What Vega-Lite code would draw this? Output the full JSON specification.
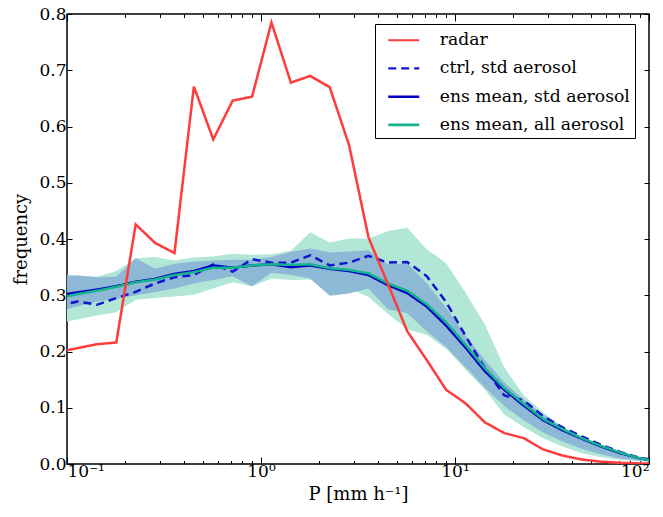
{
  "$schema": "https://vega.github.io/schema/vega-lite/v6.json",
  "width": 582,
  "height": 450,
  "autosize": {"type": "none"},
  "padding": {"left": 67, "top": 14, "right": 14, "bottom": 53},
  "background": "white",
  "config": {
    "view": {"stroke": "black", "strokeWidth": 1.5},
    "axis": {"domain": false, "grid": false, "tickColor": "black", "tickWidth": 1, "labelFont": "DejaVu Serif", "labelFontSize": 17, "labelColor": "black", "titleFont": "DejaVu Serif", "titleFontSize": 18, "titleFontWeight": "normal", "titleColor": "black"},
    "legend": {"labelFont": "DejaVu Serif", "labelFontSize": 17.2, "labelColor": "black", "labelLimit": 400}
  },
  "data": {"values": [
    {"P": 0.08995, "radar": 0.199, "ctrl": 0.281, "ens_std": 0.300, "ens_all": 0.295, "std_lo": 0.272, "std_hi": 0.334, "all_lo": 0.250, "all_hi": 0.337},
    {"P": 0.11324, "radar": 0.206, "ctrl": 0.289, "ens_std": 0.305, "ens_all": 0.302, "std_lo": 0.280, "std_hi": 0.335, "all_lo": 0.257, "all_hi": 0.335},
    {"P": 0.14256, "radar": 0.213, "ctrl": 0.283, "ens_std": 0.310, "ens_all": 0.308, "std_lo": 0.289, "std_hi": 0.332, "all_lo": 0.264, "all_hi": 0.333},
    {"P": 0.17947, "radar": 0.216, "ctrl": 0.295, "ens_std": 0.316, "ens_all": 0.315, "std_lo": 0.294, "std_hi": 0.333, "all_lo": 0.270, "all_hi": 0.343},
    {"P": 0.22594, "radar": 0.426, "ctrl": 0.306, "ens_std": 0.324, "ens_all": 0.323, "std_lo": 0.300, "std_hi": 0.366, "all_lo": 0.292, "all_hi": 0.366},
    {"P": 0.28445, "radar": 0.393, "ctrl": 0.321, "ens_std": 0.329, "ens_all": 0.328, "std_lo": 0.306, "std_hi": 0.347, "all_lo": 0.295, "all_hi": 0.368},
    {"P": 0.35810, "radar": 0.375, "ctrl": 0.332, "ens_std": 0.338, "ens_all": 0.336, "std_lo": 0.312, "std_hi": 0.356, "all_lo": 0.298, "all_hi": 0.362},
    {"P": 0.45082, "radar": 0.671, "ctrl": 0.336, "ens_std": 0.343, "ens_all": 0.341, "std_lo": 0.321, "std_hi": 0.360, "all_lo": 0.301, "all_hi": 0.367},
    {"P": 0.56754, "radar": 0.577, "ctrl": 0.355, "ens_std": 0.353, "ens_all": 0.349, "std_lo": 0.327, "std_hi": 0.362, "all_lo": 0.312, "all_hi": 0.369},
    {"P": 0.71450, "radar": 0.646, "ctrl": 0.342, "ens_std": 0.349, "ens_all": 0.349, "std_lo": 0.334, "std_hi": 0.363, "all_lo": 0.323, "all_hi": 0.374},
    {"P": 0.89950, "radar": 0.653, "ctrl": 0.364, "ens_std": 0.353, "ens_all": 0.353, "std_lo": 0.316, "std_hi": 0.363, "all_lo": 0.316, "all_hi": 0.372},
    {"P": 1.1324, "radar": 0.785, "ctrl": 0.358, "ens_std": 0.355, "ens_all": 0.355, "std_lo": 0.340, "std_hi": 0.368, "all_lo": 0.330, "all_hi": 0.373},
    {"P": 1.4256, "radar": 0.678, "ctrl": 0.358, "ens_std": 0.350, "ens_all": 0.354, "std_lo": 0.336, "std_hi": 0.377, "all_lo": 0.327, "all_hi": 0.379},
    {"P": 1.7947, "radar": 0.690, "ctrl": 0.371, "ens_std": 0.353, "ens_all": 0.355, "std_lo": 0.330, "std_hi": 0.383, "all_lo": 0.328, "all_hi": 0.412},
    {"P": 2.2594, "radar": 0.670, "ctrl": 0.353, "ens_std": 0.347, "ens_all": 0.348, "std_lo": 0.299, "std_hi": 0.376, "all_lo": 0.305, "all_hi": 0.394},
    {"P": 2.8445, "radar": 0.567, "ctrl": 0.358, "ens_std": 0.343, "ens_all": 0.345, "std_lo": 0.303, "std_hi": 0.378, "all_lo": 0.312, "all_hi": 0.401},
    {"P": 3.5810, "radar": 0.403, "ctrl": 0.370, "ens_std": 0.336, "ens_all": 0.339, "std_lo": 0.312, "std_hi": 0.380, "all_lo": 0.297, "all_hi": 0.401},
    {"P": 4.5082, "radar": 0.320, "ctrl": 0.358, "ens_std": 0.318, "ens_all": 0.321, "std_lo": 0.275, "std_hi": 0.355, "all_lo": 0.267, "all_hi": 0.414},
    {"P": 5.6754, "radar": 0.236, "ctrl": 0.359, "ens_std": 0.304, "ens_all": 0.308, "std_lo": 0.268, "std_hi": 0.357, "all_lo": 0.239, "all_hi": 0.420},
    {"P": 7.1450, "radar": 0.185, "ctrl": 0.334, "ens_std": 0.280, "ens_all": 0.284, "std_lo": 0.236, "std_hi": 0.322, "all_lo": 0.230, "all_hi": 0.382},
    {"P": 8.9950, "radar": 0.132, "ctrl": 0.288, "ens_std": 0.246, "ens_all": 0.252, "std_lo": 0.208, "std_hi": 0.278, "all_lo": 0.205, "all_hi": 0.357},
    {"P": 11.324, "radar": 0.108, "ctrl": 0.228, "ens_std": 0.207, "ens_all": 0.212, "std_lo": 0.172, "std_hi": 0.228, "all_lo": 0.168, "all_hi": 0.305},
    {"P": 14.256, "radar": 0.074, "ctrl": 0.170, "ens_std": 0.165, "ens_all": 0.170, "std_lo": 0.136, "std_hi": 0.185, "all_lo": 0.132, "all_hi": 0.248},
    {"P": 17.947, "radar": 0.055, "ctrl": 0.122, "ens_std": 0.132, "ens_all": 0.135, "std_lo": 0.103, "std_hi": 0.145, "all_lo": 0.088, "all_hi": 0.172},
    {"P": 22.594, "radar": 0.046, "ctrl": 0.113, "ens_std": 0.104, "ens_all": 0.107, "std_lo": 0.078, "std_hi": 0.115, "all_lo": 0.066, "all_hi": 0.122},
    {"P": 28.445, "radar": 0.026, "ctrl": 0.085, "ens_std": 0.078, "ens_all": 0.080, "std_lo": 0.056, "std_hi": 0.088, "all_lo": 0.046, "all_hi": 0.092},
    {"P": 35.810, "radar": 0.015, "ctrl": 0.065, "ens_std": 0.060, "ens_all": 0.062, "std_lo": 0.040, "std_hi": 0.066, "all_lo": 0.031, "all_hi": 0.066},
    {"P": 45.082, "radar": 0.008, "ctrl": 0.049, "ens_std": 0.045, "ens_all": 0.046, "std_lo": 0.027, "std_hi": 0.047, "all_lo": 0.019, "all_hi": 0.046},
    {"P": 56.754, "radar": 0.004, "ctrl": 0.034, "ens_std": 0.031, "ens_all": 0.032, "std_lo": 0.017, "std_hi": 0.031, "all_lo": 0.012, "all_hi": 0.030},
    {"P": 71.450, "radar": 0.002, "ctrl": 0.021, "ens_std": 0.019, "ens_all": 0.020, "std_lo": 0.010, "std_hi": 0.019, "all_lo": 0.007, "all_hi": 0.019},
    {"P": 89.950, "radar": 0.001, "ctrl": 0.011, "ens_std": 0.010, "ens_all": 0.010, "std_lo": 0.006, "std_hi": 0.011, "all_lo": 0.005, "all_hi": 0.011},
    {"P": 113.24, "radar": 0.0005, "ctrl": 0.005, "ens_std": 0.004, "ens_all": 0.004, "std_lo": 0.003, "std_hi": 0.006, "all_lo": 0.003, "all_hi": 0.006}
  ]},
  "resolve": {"axis": {"x": "independent", "y": "independent"}},
  "layer": [
    {
      "mark": {"type": "area", "color": "#b2e7d7", "clip": true},
      "encoding": {
        "x": {"field": "P", "type": "quantitative", "scale": {"type": "log", "domain": [0.1, 100], "nice": false},
          "axis": {"orient": "bottom", "title": "P [mm h⁻¹]", "titlePadding": 6,
            "values": [0.1, 0.2, 0.3, 0.4, 0.5, 0.6, 0.7, 0.8, 0.9, 1, 2, 3, 4, 5, 6, 7, 8, 9, 10, 20, 30, 40, 50, 60, 70, 80, 90, 100],
            "tickSize": {"expr": "indexof([0.1, 1, 10, 100], datum.value) >= 0 ? -7 : -3.5"},
            "labelPadding": 6,
            "labelExpr": "datum.value == 0.1 ? '10⁻¹' : datum.value == 1 ? '10⁰' : datum.value == 10 ? '10¹' : datum.value == 100 ? '10²' : ''"}},
        "y": {"field": "all_lo", "type": "quantitative", "scale": {"domain": [0, 0.8], "nice": false},
          "axis": {"orient": "left", "title": "frequency", "values": [0, 0.1, 0.2, 0.3, 0.4, 0.5, 0.6, 0.7, 0.8], "format": ".1f", "tickSize": -5, "labelPadding": 6, "titlePadding": 8}},
        "y2": {"field": "all_hi"}
      }
    },
    {
      "mark": {"type": "area", "color": "#8db8d6", "clip": true},
      "encoding": {
        "x": {"field": "P", "type": "quantitative",
          "axis": {"orient": "top", "title": null, "labels": false,
            "values": [0.1, 0.2, 0.3, 0.4, 0.5, 0.6, 0.7, 0.8, 0.9, 1, 2, 3, 4, 5, 6, 7, 8, 9, 10, 20, 30, 40, 50, 60, 70, 80, 90, 100],
            "tickSize": {"expr": "indexof([0.1, 1, 10, 100], datum.value) >= 0 ? -7 : -3.5"}}},
        "y": {"field": "std_lo", "type": "quantitative",
          "axis": {"orient": "right", "title": null, "labels": false, "values": [0, 0.1, 0.2, 0.3, 0.4, 0.5, 0.6, 0.7, 0.8], "tickSize": -5}},
        "y2": {"field": "std_hi"}
      }
    },
    {
      "transform": [{"fold": ["ctrl", "ens_std", "ens_all", "radar"], "as": ["series", "value"]}],
      "mark": {"type": "line", "clip": true, "strokeWidth": 2.5},
      "encoding": {
        "x": {"field": "P", "type": "quantitative", "axis": null},
        "y": {"field": "value", "type": "quantitative", "axis": null},
        "color": {"field": "series", "type": "nominal",
          "scale": {"domain": ["radar", "ctrl", "ens_std", "ens_all"], "range": ["#ff3b3b", "#1414cc", "#0000c4", "#14b48c"]},
          "legend": {"orient": "none", "legendX": 308, "legendY": 10, "title": null, "symbolType": "M-0.3,0H2.8", "symbolSize": 400, "symbolStrokeWidth": 2.5, "labelOffset": 37, "rowPadding": 8.2, "padding": 4.75, "strokeColor": "black", "fillColor": "white", "cornerRadius": 0,
            "labelExpr": "datum.label == 'radar' ? 'radar' : datum.label == 'ctrl' ? 'ctrl, std aerosol' : datum.label == 'ens_std' ? 'ens mean, std aerosol' : 'ens mean, all aerosol'"}},
        "strokeDash": {"field": "series", "type": "nominal",
          "scale": {"domain": ["radar", "ctrl", "ens_std", "ens_all"], "range": [[1, 0], [8, 5], [1, 0], [1, 0]]}},
        "strokeWidth": {"field": "series", "type": "nominal", "scale": {"domain": ["radar", "ctrl", "ens_std", "ens_all"], "range": [2.2, 2.6, 2.6, 2.6]}, "legend": null}
      }
    }
  ]
}
